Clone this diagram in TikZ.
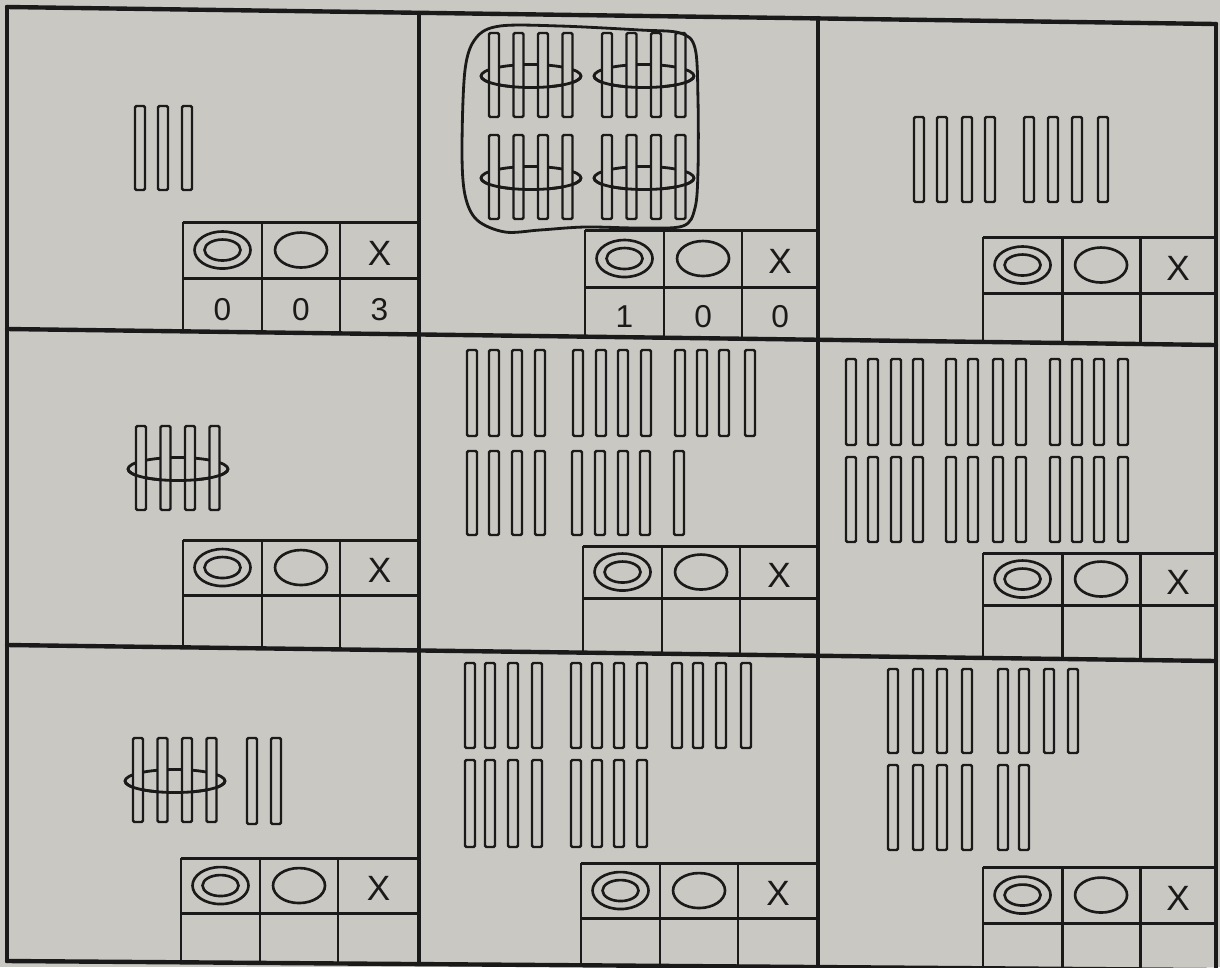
\documentclass[tikz,border=0pt]{standalone}
\usepackage{fontspec}
\setmainfont{Liberation Sans}
\definecolor{paper}{RGB}{202,200,194}
\definecolor{ink}{RGB}{26,26,26}

\begin{document}
\begin{tikzpicture}[scale=0.1,
  rule/.style={draw=ink, line width=1.25pt, line cap=round},
  tbl/.style={draw=ink, line width=0.85pt},
  stick/.style={draw=ink, fill=paper, line width=0.7pt, rounded corners=0.4pt},
  band/.style={draw=ink, line width=0.8pt},
  sym/.style={draw=ink, line width=0.75pt},
  cross/.style={text=ink, inner sep=0pt, font=\fontsize{10}{10}\selectfont},
  digit/.style={text=ink, inner sep=0pt, font=\fontsize{9}{9}\selectfont}]
\useasboundingbox (0,0) rectangle (122,-96.7);
\fill [paper] (0,0) rectangle (122,-96.7);
\clip (0,0) rectangle (122,-96.7);

% cell rules
\draw [rule] (0.7,-0.7) -- (121.6,-2.4);
\draw [rule] (0.7,-32.9) -- (121.6,-34.5);
\draw [rule] (0.7,-64.5) -- (121.6,-66.1);
\draw [rule] (0.7,-96.1) -- (121.6,-97.0);
\draw [rule] (0.7,-0.7) -- (0.7,-96.1);
\draw [rule] (41.9,-1.3) -- (41.9,-96.4);
\draw [rule] (81.8,-1.8) -- (81.8,-96.7);
\draw [rule] (121.6,-2.4) -- (121.6,-97.0);

% loose sticks
\foreach \x in {13.5,15.8,18.2} \draw [stick] (\x,-10.6) rectangle ++(1,-8.4);
\foreach \x in {91.4,93.7,96.2,98.5,102.4,104.8,107.2,109.8} \draw [stick] (\x,-11.7) rectangle ++(1,-8.5);
\foreach \x in {46.7,48.9,51.2,53.5,57.3,59.6,61.8,64.1,67.5,69.7,71.9,74.5} \draw [stick] (\x,-35.0) rectangle ++(1,-8.6);
\foreach \x in {46.7,48.9,51.2,53.5,57.2,59.5,61.8,64.0,67.4} \draw [stick] (\x,-45.1) rectangle ++(1,-8.4);
\foreach \x in {84.6,86.8,89.1,91.3,94.6,96.8,99.3,101.6,105.0,107.2,109.4,111.8} {
  \draw [stick] (\x,-35.9) rectangle ++(1,-8.6);
  \draw [stick] (\x,-45.7) rectangle ++(1,-8.5);
}
\foreach \x in {24.7,27.1} \draw [stick] (\x,-73.8) rectangle ++(1,-8.6);
\foreach \x in {46.5,48.5,50.8,53.2,57.1,59.2,61.4,63.7,67.2,69.3,71.6,74.1} \draw [stick] (\x,-66.3) rectangle ++(1,-8.5);
\foreach \x in {46.5,48.5,50.8,53.2,57.1,59.2,61.4,63.7} \draw [stick] (\x,-76.0) rectangle ++(1,-8.7);
\foreach \x in {88.8,91.3,93.7,96.2,99.8,101.9,104.4,106.8} \draw [stick] (\x,-66.9) rectangle ++(1,-8.4);
\foreach \x in {88.8,91.3,93.7,96.2,99.8,101.9} \draw [stick] (\x,-76.5) rectangle ++(1,-8.5);

% bundles of four with a band
\foreach \x/\y in {48.9/-3.3, 60.2/-3.3, 48.9/-13.5, 60.2/-13.5, 13.6/-42.6, 13.3/-73.8} {
  \draw [band] (\x+4.2,\y-4.3) ellipse (5.0 and 1.15);
  \foreach \i in {0,...,3} \draw [stick] (\x+2.45*\i,\y) rectangle ++(1,-8.4);
  \draw [band] (\x-0.8,\y-4.3) arc (180:360:5.0 and 1.15);
}
\draw [band] plot [smooth cycle, tension=0.55] coordinates {(46.2,-15.0) (46.5,-7.0) (47.6,-3.8) (50.0,-2.6) (56.0,-2.6) (64.0,-3.0) (68.0,-3.3) (69.5,-4.8) (69.8,-10.0) (69.8,-17.0) (69.5,-20.8) (68.3,-22.6) (64.0,-22.8) (58.5,-22.7) (54.0,-23.0) (50.5,-23.2) (47.7,-22.0) (46.5,-19.5)};

% score tables
\foreach \n/\l/\r/\t/\m/\b in {1/18.3/41.9/22.2/27.8/33.3, 2/58.5/81.8/23.0/28.7/33.8, 3/98.3/121.6/23.7/29.3/34.4,
    4/18.3/41.9/54.0/59.5/64.9, 5/58.3/81.8/54.6/59.8/65.4, 6/98.3/121.6/55.3/60.5/66.0,
    7/18.1/41.9/85.8/91.3/96.3, 8/58.1/81.8/86.3/91.8/96.6, 9/98.3/121.6/86.7/92.3/96.9} {
  \draw [tbl] (\l,-\t) -- (\r,-\t) (\l,-\m) -- (\r,-\m);
  \draw [tbl] (\l,-\t) -- (\l,-\b) (\l+7.9,-\t) -- (\l+7.9,-\b) (\l+15.7,-\t) -- (\l+15.7,-\b);
  \coordinate (ring\n) at ({\l+3.95},{-(\t+\m)/2});
  \coordinate (oval\n) at ({\l+11.8},{-(\t+\m)/2});
  \coordinate (v\n-a) at ({\l+3.95},{-(\m+\b)/2-0.4});
  \coordinate (v\n-b) at ({\l+11.8},{-(\m+\b)/2-0.4});
  \coordinate (v\n-c) at ({(\l+15.7+\r)/2},{-(\m+\b)/2-0.4});
  \draw [sym] (ring\n) ellipse (2.8 and 1.85);
  \draw [sym] (ring\n) ellipse (1.8 and 1.05);
  \draw [sym] (oval\n) ellipse (2.6 and 1.75);
  \node [cross] (x\n) at ({(\l+15.7+\r)/2},{-(\t+\m)/2-0.3}) {X};
}
\node [digit] (n1a) at (v1-a) {0};
\node [digit] (n1b) at (v1-b) {0};
\node [digit] (n1c) at (v1-c) {3};
\node [digit] (n2a) at (v2-a) {1};
\node [digit] (n2b) at (v2-b) {0};
\node [digit] (n2c) at (v2-c) {0};
\end{tikzpicture}
\end{document}
